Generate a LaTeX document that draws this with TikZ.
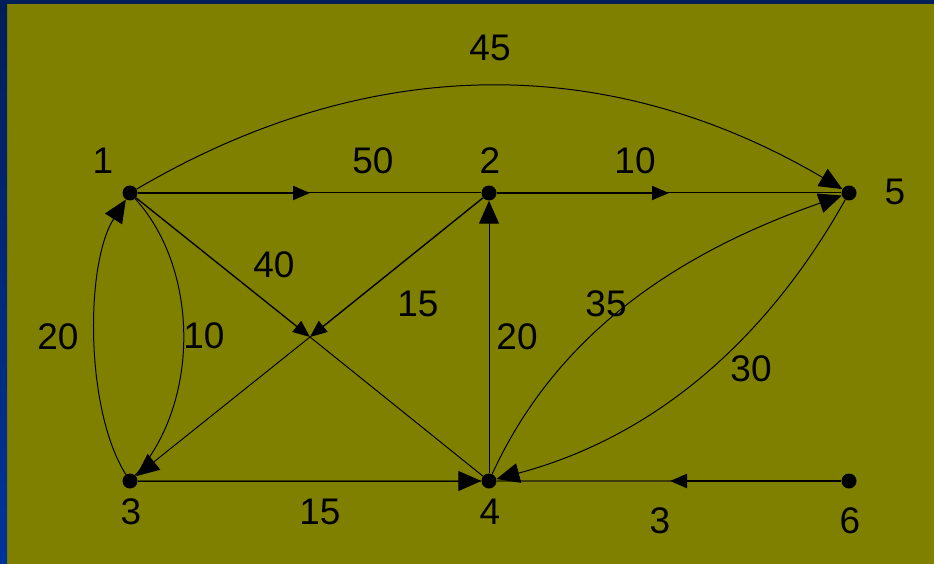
\documentclass[tikz,border=0pt]{standalone}
\usepackage{fontspec}
\setmainfont{Liberation Sans}
\usetikzlibrary{arrows.meta}
\definecolor{olivebg}{RGB}{128,128,0}
\definecolor{navytop}{RGB}{2,30,88}
\definecolor{bluebot}{RGB}{0,51,153}
\definecolor{darkolive}{RGB}{60,60,0}
\begin{document}
\begin{tikzpicture}[x=1bp,y=-1bp,
  dot/.style={circle,fill=black,inner sep=0pt,minimum size=15bp},
  lbl/.style={inner sep=0pt,font=\fontsize{37bp}{44bp}\selectfont},
  thinedge/.style={line width=1bp,black},
  heavy/.style={line width=2bp,black},
  medium/.style={line width=1.4bp,black},
  baseline/.style={line width=2.5bp,darkolive},
  endtip/.style={-{Triangle[length=23bp,width=20bp]}},
  midtip/.style={-{Triangle[length=17bp,width=14bp]}},
]
\useasboundingbox (0,0) rectangle (934,564);
\fill[olivebg] (0,0) rectangle (934,564);
\shade[top color=navytop,bottom color=bluebot] (0,0) rectangle (7,564);
\fill[navytop] (0,0) rectangle (934,4);

% nodes
\node[dot] (n1) at (130,193) {};
\node[dot] (n2) at (489,193) {};
\node[dot] (n3) at (130,481) {};
\node[dot] (n4) at (489,481) {};
\node[dot] (n5) at (849,193) {};
\node[dot] (n6) at (849,481) {};
\coordinate (X) at (310,337);
\coordinate (m12) at (310,193);
\coordinate (m25) at (669,193);
\coordinate (m64) at (670,481);

% straight edges
\draw[thinedge] (n1) -- (n2);
\draw[heavy,midtip] (n1) -- (m12);
\draw[thinedge] (n2) -- (n5);
\draw[heavy,midtip] (n2) -- (m25);
\draw[baseline] (n6) -- (n4);
\draw[heavy,midtip] (n6) -- (m64);
\draw[baseline] (n3) -- (n4);
\draw[thinedge,endtip] (n3) -- (n4);
\draw[medium,midtip] (n1) -- (X);
\draw[medium,midtip] (n2) -- (X);
\draw[thinedge] (X) -- (n4);
\draw[thinedge,endtip] (X) -- (n3);
\draw[thinedge,endtip] (n4) -- (n2);

% curved edges
\draw[thinedge,endtip] (n1) .. controls (370,52) and (609,52) .. (n5);
\draw[thinedge,endtip] (n4) .. controls (560,326) and (689,249) .. (n5);
\draw[thinedge,endtip] (n5) .. controls (766,341) and (654,437) .. (n4);
\draw[thinedge,endtip] (n3) .. controls (85,410) and (85,264) .. (n1);
\draw[thinedge] (n1) .. controls (200,270) and (200,404) .. (n3);

% node labels
\node[lbl] (l1) at (103,161) {1};
\node[lbl] (l2) at (490,161) {2};
\node[lbl] (l3) at (131,512) {3};
\node[lbl] (l4) at (490,512) {4};
\node[lbl] (l5) at (895,192) {5};
\node[lbl] (l6) at (850,521) {6};

% edge labels
\node[lbl] (w15a) at (490,48) {45};
\node[lbl] (w12) at (373,161) {50};
\node[lbl] (w25) at (635,161) {10};
\node[lbl] (w14) at (274,265) {40};
\node[lbl] (w23) at (418,304) {15};
\node[lbl] (w31) at (58,337) {20};
\node[lbl] (w13) at (204,336) {10};
\node[lbl] (w42) at (517,337) {20};
\node[lbl] (w45) at (606,304) {35};
\node[lbl] (w54) at (751,369) {30};
\node[lbl] (w34) at (320,512) {15};
\node[lbl] (w64) at (660,521) {3};
\end{tikzpicture}
\end{document}
